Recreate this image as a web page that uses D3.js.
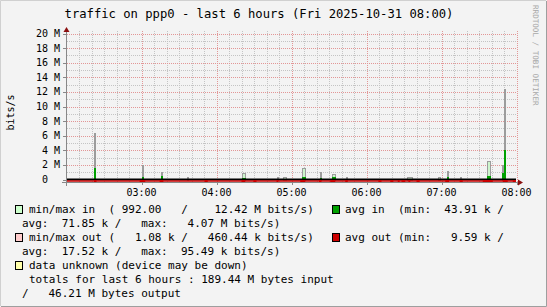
<!DOCTYPE html>
<html>
<head>
<meta charset="utf-8">
<script src="https://cdn.jsdelivr.net/npm/d3@7"></script>
<style>
html, body { margin: 0; padding: 0; background: #f3f3f3; }
svg text { font-family: "DejaVu Sans Mono", monospace; white-space: pre; }
</style>
</head>
<body>
<svg id="chart" width="547" height="307"></svg>
<script>
// ---- data (bits/s in M) ----
var day = "2025-10-31 ";
var timeStart = "02:00:00", timeEnd = "08:00:00";

// traffic in spikes: start/end of the bucket, max and avg
var inStart = ["02:22:00","03:00:00","03:15:30","03:36:00","04:20:30","04:48:00","04:53:00","05:08:30","05:22:30","05:32:30","05:43:30","06:32:30","06:57:30","07:04:00","07:14:30","07:36:30","07:48:00","07:50:00"];
var inEnd   = ["02:23:00","03:01:00","03:16:45","03:37:00","04:22:30","04:49:00","04:55:30","05:11:00","05:23:30","05:35:00","05:44:30","06:36:30","06:58:30","07:05:15","07:15:30","07:39:00","07:49:00","07:51:00"];
var inMax   = [6.4, 2.0, 1.05, 0.3, 0.9, 0.3, 0.3, 1.55, 1.0, 0.72, 0.35, 0.3, 0.3, 1.16, 0.3, 2.5, 2.0, 12.42];
var inAvg   = [1.6, 0.33, 0.5, 0, 0.25, 0, 0, 0.33, 0.2, 0.3, 0, 0, 0, 0.35, 0, 0.5, 0.85, 4.07];

// traffic out marks (drawn below the zero line)
var outStart = ["02:22:00","02:58:30","03:14:30","03:50:30","04:20:00","04:29:30","04:48:00","05:07:00","05:22:00","05:31:00","05:43:00","06:09:30","06:19:00","06:25:00","06:28:00","06:33:30","06:40:00","07:03:00","07:14:30","07:33:00","07:49:00","07:57:00"];
var outEnd   = ["02:24:00","03:03:00","03:17:30","03:53:00","04:23:00","04:32:00","04:49:30","05:11:00","05:24:00","05:35:00","05:45:00","06:12:00","06:21:30","06:26:30","06:31:00","06:35:00","06:42:30","07:06:00","07:17:00","07:41:00","07:53:00","07:59:30"];
var outVal   = [0.35,0.35,0.35,0.35,0.35,0.35,0.35,0.35,0.35,0.35,0.35,0.35,0.35,0.35,0.35,0.35,0.35,0.35,0.35,0.35,0.35,0.35];

var yTicks = [0, 2, 4, 6, 8, 10, 12, 14, 16, 18, 20];
var yTickLabels = [" 0", " 2 M", " 4 M", " 6 M", " 8 M", "10 M", "12 M", "14 M", "16 M", "18 M", "20 M"];
var hourLabels = ["03:00", "04:00", "05:00", "06:00", "07:00", "08:00"];

var title = "traffic on ppp0 - last 6 hours (Fri 2025-10-31 08:00)";

var parse = d3.timeParse("%Y-%m-%d %H:%M:%S");
function t(s) { return parse(day + s); }

var svg = d3.select("#chart");

// background + border
svg.append("rect").attr("x", 0).attr("y", 0).attr("width", 547).attr("height", 307).attr("fill", "#f3f3f3");
svg.append("path").attr("d", "M0.5,306 V0.5 H546").attr("fill", "none").attr("stroke", "#d0d0d0");
svg.append("path").attr("d", "M1,306.5 H546.5 V1").attr("fill", "none").attr("stroke", "#9e9e9e");

var x = d3.scaleTime().domain([t(timeStart), t(timeEnd)]).range([66.5, 516.5]);
var y = d3.scaleLinear().domain([-0.41, 20]).range([182.5, 33.5]);

var g = svg.append("g");

// minor grid
var minorX = d3.timeMinute.every(10).range(t("02:10:00"), t(timeEnd)).filter(function(d) { return d.getMinutes() != 0; });
g.selectAll(".vminor").data(minorX).enter().append("line")
  .attr("x1", function(d) { return Math.round(x(d)) + 0.5; })
  .attr("x2", function(d) { return Math.round(x(d)) + 0.5; })
  .attr("y1", 31).attr("y2", 182)
  .attr("stroke", "#c4c4c4").attr("stroke-dasharray", "1,1");
var minorY = d3.range(1, 20, 2);
g.selectAll(".hminor").data(minorY).enter().append("line")
  .attr("x1", 67).attr("x2", 517)
  .attr("y1", function(d) { return Math.round(y(d)) + 0.5; })
  .attr("y2", function(d) { return Math.round(y(d)) + 0.5; })
  .attr("stroke", "#c4c4c4").attr("stroke-dasharray", "1,1");

// major grid
var hours = hourLabels.map(function(h) { return t(h + ":00"); });
g.selectAll(".vmajor").data(hours).enter().append("line")
  .attr("x1", function(d) { return Math.round(x(d)) + 0.5; })
  .attr("x2", function(d) { return Math.round(x(d)) + 0.5; })
  .attr("y1", 31).attr("y2", 182)
  .attr("stroke", "#e29696").attr("stroke-dasharray", "1,1");
g.selectAll(".hmajor").data(yTicks.slice(1)).enter().append("line")
  .attr("x1", 67).attr("x2", 517)
  .attr("y1", function(d) { return Math.round(y(d)) + 0.5; })
  .attr("y2", function(d) { return Math.round(y(d)) + 0.5; })
  .attr("stroke", "#e29696").attr("stroke-dasharray", "1,1");

// min/max in (snapped to whole pixels)
function px(d) { return Math.round(x(d)) + 0.5; }
var inData = inStart.map(function(s, i) { return { s: t(s), e: t(inEnd[i]), max: inMax[i], avg: inAvg[i] }; });
g.selectAll(".maxin").data(inData).enter().append("rect")
  .attr("x", function(d) { return px(d.s); })
  .attr("width", function(d) { return Math.max(1, px(d.e) - px(d.s)); })
  .attr("y", function(d) { return Math.round(y(d.max)) + 0.5; })
  .attr("height", function(d) { return Math.round(y(0)) - Math.round(y(d.max)); })
  .attr("fill", "#ccf5cc").attr("stroke", "#9c9c9c").attr("stroke-width", 1);

// avg in
g.selectAll(".avgin").data(inData.filter(function(d) { return d.avg > 0; })).enter().append("rect")
  .attr("x", function(d) { return px(d.s) - 0.5; })
  .attr("width", function(d) { return Math.max(1, px(d.e) - px(d.s)) + 1; })
  .attr("y", function(d) { return Math.round(y(d.avg)); })
  .attr("height", function(d) { return Math.round(y(0)) - Math.round(y(d.avg)); })
  .attr("fill", "#00a000");

// zero lines
g.append("line").attr("x1", 67).attr("x2", 516).attr("y1", y(0)).attr("y2", y(0))
  .attr("stroke", "#000").attr("stroke-width", 1.8);
g.append("line").attr("x1", 67).attr("x2", 516).attr("y1", y(0) + 1.5).attr("y2", y(0) + 1.5)
  .attr("stroke", "#cc0000").attr("stroke-width", 1.4);

// avg out marks
var outData = outStart.map(function(s, i) { return { s: t(s), e: t(outEnd[i]), v: outVal[i] }; });
g.selectAll(".avgout").data(outData).enter().append("rect")
  .attr("x", function(d) { return x(d.s); })
  .attr("width", function(d) { return x(d.e) - x(d.s); })
  .attr("y", y(0) + 0.6)
  .attr("height", function(d) { return y(-d.v) - y(0) - 0.6; })
  .attr("fill", "#cc0000");

// axes
g.append("line").attr("x1", 62).attr("x2", 520).attr("y1", 182.5).attr("y2", 182.5).attr("stroke", "#888");
g.append("line").attr("x1", 66.5).attr("x2", 66.5).attr("y1", 186).attr("y2", 30).attr("stroke", "#888");
g.append("path").attr("d", "M518,179.5 L523,182.5 L518,185.5 Z").attr("fill", "#8b1010");
g.append("path").attr("d", "M63.5,32 L66.5,27 L69.5,32 Z").attr("fill", "#8b1010");
g.selectAll(".ytick").data(yTicks).enter().append("line")
  .attr("x1", 63).attr("x2", 66)
  .attr("y1", function(d) { return Math.round(y(d)) + 0.5; })
  .attr("y2", function(d) { return Math.round(y(d)) + 0.5; })
  .attr("stroke", "#888");
g.selectAll(".xtick").data(hours).enter().append("line")
  .attr("x1", function(d) { return Math.round(x(d)) + 0.5; })
  .attr("x2", function(d) { return Math.round(x(d)) + 0.5; })
  .attr("y1", 183).attr("y2", 185)
  .attr("stroke", "#888");

// tick labels
g.selectAll(".ylab").data(yTicks).enter().append("text")
  .attr("x", 36).attr("y", function(d) { return y(d) + 3.5; })
  .attr("font-size", "10px").attr("fill", "#000")
  .text(function(d, i) { return yTickLabels[i]; });
g.selectAll(".xlab").data(hours).enter().append("text")
  .attr("x", function(d) { return x(d); }).attr("y", 195.5)
  .attr("text-anchor", "middle")
  .attr("font-size", "10px").attr("fill", "#000")
  .text(function(d, i) { return hourLabels[i]; });

// titles
svg.append("text").attr("x", 259).attr("y", 18).attr("text-anchor", "middle")
  .attr("font-size", "12.2px").attr("fill", "#000").text(title);
svg.append("text").attr("transform", "translate(13.5,112.5) rotate(-90)")
  .attr("text-anchor", "middle").attr("font-size", "10px").attr("fill", "#000").text("bits/s");
svg.append("text").attr("transform", "translate(533,5) rotate(90)")
  .attr("font-size", "7.6px").attr("fill", "#a8a8a8").text("RRDTOOL / TOBI OETIKER");

// legend
var legendBoxes = [
  { x: 15, y: 205, c: "#ccffcc" },
  { x: 332, y: 205, c: "#00a000" },
  { x: 15, y: 233, c: "#ffcccc" },
  { x: 332, y: 233, c: "#cc0000" },
  { x: 15, y: 261, c: "#ffffaa" }
];
svg.selectAll(".lbox").data(legendBoxes).enter().append("rect")
  .attr("x", function(d) { return d.x + 0.5; }).attr("y", function(d) { return d.y + 0.5; })
  .attr("width", 7).attr("height", 8)
  .attr("fill", function(d) { return d.c; }).attr("stroke", "#000");

var legendLines = [
  { x: 29, y: 213, s: "min/max in  ( 992.00   /    12.42 M bits/s)" },
  { x: 345, y: 213, s: "avg in  (min:  43.91 k /" },
  { x: 22, y: 227, s: "avg:  71.85 k /   max:   4.07 M bits/s)" },
  { x: 29, y: 241, s: "min/max out (   1.08 k /   460.44 k bits/s)" },
  { x: 345, y: 241, s: "avg out (min:   9.59 k /" },
  { x: 22, y: 255, s: "avg:  17.52 k /   max:  95.49 k bits/s)" },
  { x: 29, y: 269, s: "data unknown (device may be down)" },
  { x: 29, y: 283, s: "totals for last 6 hours : 189.44 M bytes input" },
  { x: 22, y: 297, s: "/   46.21 M bytes output" }
];
svg.selectAll(".ltext").data(legendLines).enter().append("text")
  .attr("x", function(d) { return d.x; }).attr("y", function(d) { return d.y; })
  .attr("font-size", "11px").attr("fill", "#000")
  .text(function(d) { return d.s; });
</script>
</body>
</html>
